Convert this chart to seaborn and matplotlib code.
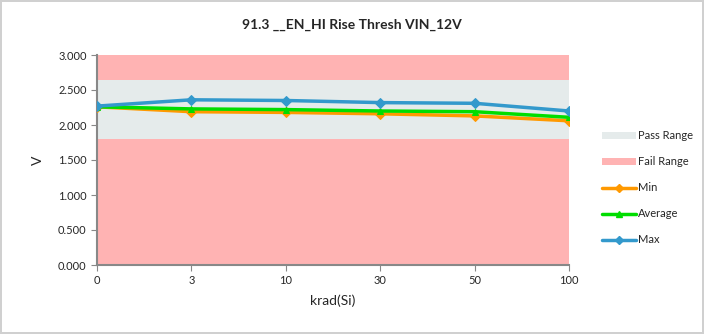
import numpy as np
import pandas as pd
import matplotlib
matplotlib.use("Agg")
import matplotlib.pyplot as plt
import seaborn as sns
from matplotlib.patches import Patch
from matplotlib.lines import Line2D

# البيانات
krad = ["0", "3", "10", "30", "50", "100"]
v_min = [2.26, 2.19, 2.18, 2.16, 2.13, 2.06]
v_avg = [2.26, 2.23, 2.22, 2.20, 2.19, 2.11]
v_max = [2.27, 2.36, 2.35, 2.32, 2.31, 2.20]
pass_low, pass_high = 1.80, 2.65

df = pd.DataFrame({"pos": range(len(krad)), "Min": v_min, "Average": v_avg, "Max": v_max})

sns.set_style("white")
plt.rcParams["font.family"] = ["Lato", "DejaVu Sans"]

fig = plt.figure(figsize=(7.04, 3.34), dpi=100)
fig.patch.set_edgecolor("#d0d0d0")
fig.patch.set_linewidth(1.5)
ax = fig.add_axes([97/704, 1 - 265/334, (569-97)/704, (265-55)/334])

fail_c = "#ffb3b3"
pass_c = "#e5ebeb"
ax.axhspan(0, pass_low, color=fail_c, lw=0, zorder=0)
ax.axhspan(pass_low, pass_high, color=pass_c, lw=0, zorder=0)
ax.axhspan(pass_high, 3.0, color=fail_c, lw=0, zorder=0)

styles = [("Min", "#ff9900", "D"), ("Average", "#00dd00", "^"), ("Max", "#3399cc", "D")]
for name, col, mk in styles:
    sns.lineplot(data=df, x="pos", y=name, color=col, marker=mk, markersize=5,
                 markeredgecolor=col, linewidth=2.5, ax=ax, zorder=3)

ax.set_xlim(0, len(krad) - 1)
ax.set_ylim(0, 3.0)
ax.set_xticks(range(len(krad)))
ax.set_xticklabels(krad)
ax.set_yticks(np.arange(0, 3.01, 0.5))
ax.set_yticklabels([f"{v:.3f}" for v in np.arange(0, 3.01, 0.5)])
ax.tick_params(axis="both", labelsize=8, length=4, color="#888888", direction="out",
               bottom=True, left=True)
for s in ["top", "right"]:
    ax.spines[s].set_visible(False)
for s in ["left", "bottom"]:
    ax.spines[s].set_color("#888888")
    ax.spines[s].set_linewidth(1.5)

ax.set_xlabel("krad(Si)", fontsize=10, labelpad=6)
ax.set_ylabel("V", fontsize=10, labelpad=10)
fig.suptitle("91.3 __EN_HI Rise Thresh VIN_12V", fontsize=10, fontweight="bold", y=0.945)

handles = [Patch(facecolor=pass_c, edgecolor="none"), Patch(facecolor=fail_c, edgecolor="none")]
handles += [Line2D([], [], color=c, marker=m, markersize=4, lw=2.5) for _, c, m in styles]
labels = ["Pass Range", "Fail Range", "Min", "Average", "Max"]
fig.legend(handles, labels, loc="upper left", bbox_to_anchor=(598/704, 1 - 126/334),
           frameon=False, fontsize=8, labelspacing=1.35, handlelength=3.0, handletextpad=0.2,
           borderaxespad=0)

fig.savefig("out.png", dpi=100, edgecolor=fig.get_edgecolor())
